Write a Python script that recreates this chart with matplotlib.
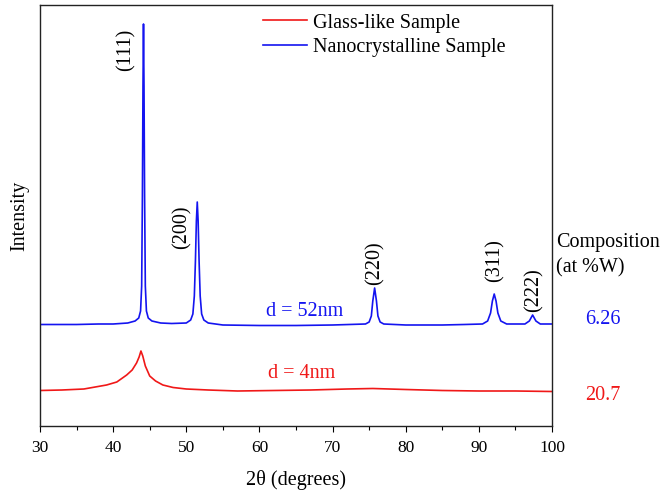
import matplotlib
matplotlib.use("Agg")
import matplotlib.pyplot as plt
from matplotlib.ticker import MultipleLocator

plt.rcParams['font.family'] = ['Liberation Serif', 'DejaVu Serif']

# XRD pattern of the nanocrystalline sample (2theta in degrees, intensity in a.u.)
nano_2theta = [30.0, 35.0, 38.0, 40.0, 42.0, 43.0, 43.5, 43.75, 43.9, 44.0, 44.08,
               44.15, 44.22, 44.3, 44.4, 44.55, 44.8, 45.3, 46.5, 48.0, 50.0, 50.6,
               50.9, 51.1, 51.25, 51.38, 51.5, 51.62, 51.75, 51.9, 52.1, 52.4, 53.0,
               55.0, 60.0, 65.0, 70.0, 74.5, 75.0, 75.3, 75.5, 75.75, 76.0, 76.2,
               76.5, 77.0, 80.0, 85.0, 88.0, 90.5, 91.2, 91.6, 91.85, 92.1, 92.35,
               92.6, 93.0, 93.8, 96.3, 96.9, 97.35, 97.8, 98.4, 100.0]
nano_intensity = [101.5, 101.5, 102.0, 102.0, 103.0, 105.0, 108.0, 115.0, 140.0, 230.0, 340.0,
                  402.0, 340.0, 230.0, 140.0, 115.0, 108.0, 105.0, 103.0, 102.5, 103.0, 106.0,
                  112.0, 130.0, 165.0, 205.0, 224.0, 205.0, 165.0, 130.0, 112.0, 106.0, 103.0,
                  101.0, 100.5, 100.5, 101.0, 102.0, 104.0, 110.0, 125.0, 138.0, 125.0, 110.0,
                  104.0, 102.0, 101.0, 101.0, 101.5, 102.0, 105.0, 113.0, 125.0, 132.0, 125.0,
                  113.0, 105.0, 102.0, 102.0, 105.0, 111.0, 105.0, 102.0, 102.0]

# XRD pattern of the glass-like sample
glass_2theta = [30.0, 33.0, 36.0, 39.1, 40.5, 41.85, 42.6, 43.2, 43.55, 43.8, 44.05,
                44.4, 45.0, 45.8, 46.8, 48.2, 50.0, 53.0, 57.0, 62.0, 67.0, 72.0,
                75.5, 80.0, 85.0, 90.0, 95.0, 100.0]
glass_intensity = [35.5, 36.0, 37.0, 41.0, 44.0, 51.0, 56.0, 63.0, 69.0, 75.0, 70.0,
                   60.0, 50.0, 45.0, 41.0, 38.5, 37.0, 36.0, 35.0, 35.5, 36.0, 37.0,
                   37.5, 36.5, 35.5, 35.0, 35.0, 34.5]

# Miller indices and the centre of each label (2theta, intensity)
hkl_labels = ['(111)', '(200)', '(220)', '(311)', '(222)']
hkl_label_x = [41.8, 49.4, 75.8, 92.2, 97.5]
hkl_label_y = [376, 199, 163, 165, 136]

series_labels = ['Glass-like Sample', 'Nanocrystalline Sample']
size_labels = ['d = 4nm', 'd = 52nm']
composition = ['20.7', '6.26']

RED = '#f01818'
BLUE = '#1414f0'
FS = 14.5

fig = plt.figure(figsize=(6.65, 4.93), dpi=100)
ax = fig.add_axes([40 / 665, 67 / 493, 512 / 665, 421 / 493])

ax.plot(glass_2theta, glass_intensity, color=RED, lw=1.2, label=series_labels[0])
ax.plot(nano_2theta, nano_intensity, color=BLUE, lw=1.2, label=series_labels[1])

ax.set_xlim(30, 100)
ax.set_ylim(0, 421)
ax.xaxis.set_major_locator(MultipleLocator(10))
ax.xaxis.set_minor_locator(MultipleLocator(5))
ax.tick_params(axis='x', which='major', direction='out', length=4, width=0.8,
               labelsize=12.5, pad=6)
ax.tick_params(axis='x', which='minor', direction='out', length=3, width=0.8)
ax.set_yticks([])
for sp in ax.spines.values():
    sp.set_linewidth(1.0)
    sp.set_color('#222222')

ax.set_xlabel('2θ (degrees)', fontsize=FS, labelpad=10)
ax.set_ylabel('Intensity', fontsize=FS, labelpad=8)

for lab, x, y in zip(hkl_labels, hkl_label_x, hkl_label_y):
    ax.text(x, y, lab, rotation=90, ha='center', va='center', fontsize=FS)

ax.text(65.8, 52, size_labels[0], color=RED, fontsize=FS, ha='center', va='center')
ax.text(66.2, 115, size_labels[1], color=BLUE, fontsize=FS, ha='center', va='center')

ax.text(1.008, 184 / 421, 'Composition', transform=ax.transAxes, fontsize=FS,
        ha='left', va='center')
ax.text(1.008, 158 / 421, '(at %W)', transform=ax.transAxes, fontsize=FS,
        ha='left', va='center')
ax.text(1.1, 107, composition[1], color=BLUE, fontsize=FS,
        ha='center', va='center', transform=ax.get_yaxis_transform())
ax.text(1.1, 31, composition[0], color=RED, fontsize=FS,
        ha='center', va='center', transform=ax.get_yaxis_transform())

leg = ax.legend(loc='upper left', bbox_to_anchor=(0.4355, 0.98), frameon=False,
                fontsize=FS, handlelength=2.2, handletextpad=0.3,
                labelspacing=0.25, borderaxespad=0.0, borderpad=0.0)

fig.savefig('out.png', dpi=100)
